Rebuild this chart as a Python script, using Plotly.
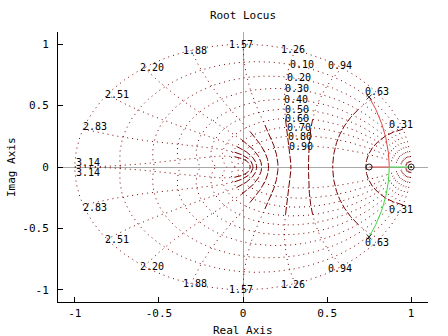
import numpy as np
import plotly.graph_objects as go

# Open-loop zeros and poles of the discrete-time plant
zeros = [0.75, 1.0]
poles = [0.75 + 0.57j, 0.75 - 0.57j]

# z-plane grid: damping ratios and natural frequencies (units of pi/T)
zeta_grid = [0.1, 0.2, 0.3, 0.4, 0.5, 0.6, 0.7, 0.8, 0.9]
zeta_labels = ["0.10", "0.20", "0.30", "0.40", "0.50", "0.60", "0.70", "0.80", "0.90"]
wn_grid = [0.1, 0.2, 0.3, 0.4, 0.5, 0.6, 0.7, 0.8, 0.9, 1.0]
wn_labels = ["0.31", "0.63", "0.94", "1.26", "1.57", "1.88", "2.20", "2.51", "2.83", "3.14"]
zeta_label_wn = 0.4  # damping labels sit on this natural-frequency curve

x_ticks = [-1, -0.5, 0, 0.5, 1]
x_tick_text = ["-1", "-0.5", "0", "0.5", "1"]
y_ticks = [-1, -0.5, 0, 0.5, 1]
y_tick_text = ["-1", "-0.5", "0", "0.5", "1"]

FONT = "DejaVu Sans Mono"
GRID = "#7a0000"
DOT = "1px,4px"
DENSE = "7px,2px"
RED = "#e04848"
GREEN = "#44d444"

fig = go.Figure()


def add_line(pts, color, dash, width=1.0):
    fig.add_trace(go.Scatter(x=np.real(pts), y=np.imag(pts), mode="lines",
                             line=dict(color=color, width=width, dash=dash),
                             hoverinfo="skip", showlegend=False))


def join(curves):
    out = []
    for c in curves:
        out.extend(list(c))
        out.append(np.nan)
    return np.array(out, dtype=complex)


# constant-damping spirals (zeta = 0 is the unit circle)
th = np.linspace(0, np.pi, 400)
spirals = []
for zt in [0.0] + zeta_grid:
    r = np.exp(-zt * th / np.sqrt(1 - zt ** 2))
    z = r * np.exp(1j * th)
    spirals += [z, np.conj(z)]
add_line(join(spirals), GRID, DOT)


# constant natural-frequency curves
def wn_curve(w, z0, z1, n=300):
    zt = np.linspace(z0, z1, n)
    return np.exp(-zt * w + 1j * w * np.sqrt(1 - zt ** 2))


sparse, dense = [], []
for k, wg in enumerate(wn_grid, start=1):
    w = wg * np.pi
    zt_split = min(0.6 + 0.02 * (k - 3), 0.3 * (k - 1))
    if zt_split > 0:
        c = wn_curve(w, 0.0, zt_split)
        sparse += [c, np.conj(c)]
    c = wn_curve(w, zt_split, 1.0)
    dense += [c, np.conj(c)]
add_line(join(sparse), GRID, DOT)
add_line(join(dense), GRID, DENSE)

# root locus: roots of den(z) + K num(z)
num = np.real(np.poly(zeros))
den = np.real(np.poly(poles))
# break-in point from N D' - D N' = 0
crit = np.polysub(np.polymul(num, np.polyder(den)), np.polymul(den, np.polyder(num)))
k_break = []
for p in np.roots(crit):
    kp = -np.polyval(den, p) / np.polyval(num, p)
    if abs(p.imag) < 1e-9 and kp.real > 0:
        k_break.append(kp.real)
gains = np.concatenate([[0.0], np.logspace(-3, 5, 1500)])
for kb in k_break:
    gains = np.concatenate([gains, kb * (1 + np.linspace(-0.05, 0.05, 401) ** 3)])
gains = np.sort(gains)
br1, br2 = [], []
for K in gains:
    rts = np.roots(np.polyadd(den, K * num))
    if np.max(np.abs(rts.imag)) > 1e-7:
        rts = sorted(rts, key=lambda v: -v.imag)
    else:
        rts = sorted(rts.real)
    br1.append(complex(rts[0]))
    br2.append(complex(rts[1]))
add_line(np.array(br1), RED, "solid")
add_line(np.array(br2), GREEN, "solid")

# open-loop zeros and poles
zc = np.array(zeros, dtype=complex)
fig.add_trace(go.Scatter(x=zc.real, y=zc.imag, mode="markers",
                         marker=dict(symbol="circle-open", size=6, color="#222222",
                                     line=dict(width=1, color="#222222")),
                         hoverinfo="skip", showlegend=False))
fig.add_trace(go.Scatter(x=np.real(poles), y=np.imag(poles), mode="markers",
                         marker=dict(symbol="x-thin-open", size=5, color="#222222",
                                     line=dict(width=1, color="#222222")),
                         hoverinfo="skip", showlegend=False))

# grid labels
ann = []
w_lab = zeta_label_wn * np.pi
for zt, txt in zip(zeta_grid, zeta_labels):
    p = np.exp(-zt * w_lab + 1j * w_lab * np.sqrt(1 - zt ** 2))
    ann.append(dict(x=p.real, y=p.imag, text=txt, xanchor="left", yanchor="middle",
                    xshift=-2, showarrow=False))
for wg, txt in zip(wn_grid, wn_labels):
    a = wg * np.pi
    c, s = np.cos(a), np.sin(a)
    dx = -13 * c if c < 0 else -2
    dy = 5 * c * c if c > 0 else 5 * max(0.0, (-c - 0.9) * 10)
    for sg in (1, -1):
        ann.append(dict(x=c, y=sg * s, text=txt, xanchor="center", yanchor="middle",
                        xshift=dx, yshift=sg * dy, showarrow=False))
for a in ann:
    a["font"] = dict(family=FONT, size=10, color="black")

ann.append(dict(text="Real Axis", xref="paper", yref="paper", x=0.5, y=0,
                xanchor="center", yanchor="middle", yshift=-28, showarrow=False,
                font=dict(family=FONT, size=11, color="black")))
ann.append(dict(text="Imag Axis", xref="paper", yref="paper", x=0, y=0.5,
                xanchor="center", yanchor="middle", xshift=-47, textangle=-90,
                showarrow=False, font=dict(family=FONT, size=11, color="black")))

axis_common = dict(showgrid=False, zeroline=True, zerolinecolor="#a8a8a8",
                   zerolinewidth=1, showline=True, linecolor="black", linewidth=1,
                   mirror=False, ticks="inside", ticklen=5, tickcolor="black",
                   tickfont=dict(family=FONT, size=11, color="black"))
fig.update_xaxes(range=[-1.1, 1.1], tickvals=x_ticks, ticktext=x_tick_text,
                 ticklabelstandoff=1, **axis_common)
fig.update_yaxes(range=[-1.1, 1.1], tickvals=y_ticks, ticktext=y_tick_text,
                 ticklabelstandoff=6, **axis_common)

fig.update_layout(
    width=448, height=336,
    margin=dict(l=58, r=20, t=32, b=34),
    paper_bgcolor="white", plot_bgcolor="white",
    title=dict(text="Root Locus", x=0.5, xref="paper", y=1 - 15 / 336,
               yref="container", xanchor="center", yanchor="middle",
               font=dict(family=FONT, size=11, color="black")),
    annotations=ann,
    showlegend=False,
)

fig.write_html("out.html")
